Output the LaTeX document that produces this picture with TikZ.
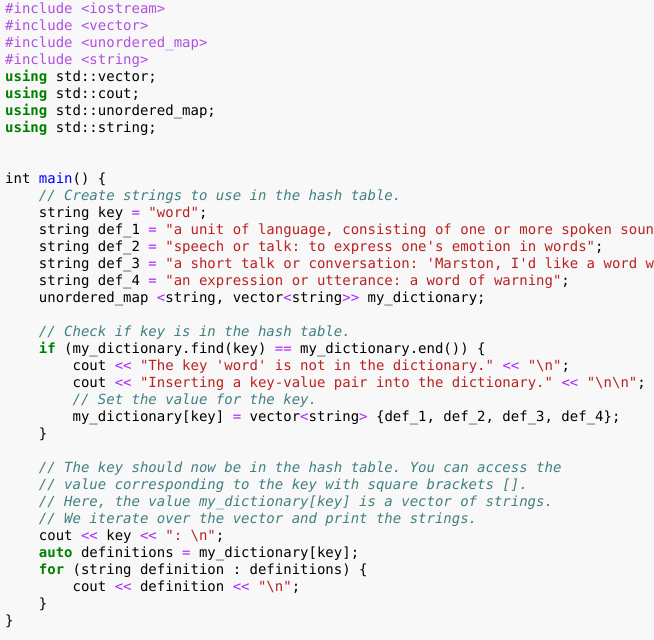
\documentclass[tikz,border=0pt]{standalone}
\usepackage{fontspec}
\newfontfamily\code{DejaVu Sans Mono}
\definecolor{bg}{HTML}{F8F8F8}
\definecolor{ppc}{HTML}{B050E0}
\definecolor{opc}{HTML}{AA22FF}
\definecolor{kwc}{HTML}{008000}
\definecolor{stc}{HTML}{BA2121}
\definecolor{cmc}{HTML}{408080}
\definecolor{fnc}{HTML}{0000FF}
\newcommand{\pp}[1]{\textcolor{ppc}{#1}}
\newcommand{\op}[1]{\textcolor{opc}{#1}}
\newcommand{\kw}[1]{\textcolor{kwc}{\bfseries #1}}
\newcommand{\stq}[1]{\textcolor{stc}{#1}}
\newcommand{\cm}[1]{\textcolor{cmc}{\itshape #1}}
\newcommand{\fn}[1]{\textcolor{fnc}{#1}}
\newcommand{\bs}{\textbackslash}
\newcommand{\codeline}[3]{\node[cl] (l#1) at ({5+8.43*#2},{-13.5-17*(#1-1)}) {#3};}
\frenchspacing
\begin{document}
\begin{tikzpicture}[x=1pt,y=1pt,
  cl/.style={anchor=base west,inner sep=0pt,font=\code\fontsize{14}{17}\selectfont\frenchspacing}]
\fill[bg] (0,0) rectangle (654,-640);
\clip (0,0) rectangle (654,-640);
\codeline{1}{0}{\pp{\#include <iostream>}}
\codeline{2}{0}{\pp{\#include <vector>}}
\codeline{3}{0}{\pp{\#include <unordered\_map>}}
\codeline{4}{0}{\pp{\#include <string>}}
\codeline{5}{0}{\kw{using} std::vector;}
\codeline{6}{0}{\kw{using} std::cout;}
\codeline{7}{0}{\kw{using} std::unordered\_map;}
\codeline{8}{0}{\kw{using} std::string;}
\codeline{11}{0}{int \fn{main}() \{}
\codeline{12}{4}{\cm{// Create strings to use in the hash table.}}
\codeline{13}{4}{string key \op{=} \stq{"word"};}
\codeline{14}{4}{string def\_1 \op{=} \stq{"a unit of language, consisting of one or more spoken sounds"};}
\codeline{15}{4}{string def\_2 \op{=} \stq{"speech or talk: to express one's emotion in words"};}
\codeline{16}{4}{string def\_3 \op{=} \stq{"a short talk or conversation: 'Marston, I'd like a word with you'"};}
\codeline{17}{4}{string def\_4 \op{=} \stq{"an expression or utterance: a word of warning"};}
\codeline{18}{4}{unordered\_map \op{<}string, vector\op{<}string\op{>>} my\_dictionary;}
\codeline{20}{4}{\cm{// Check if key is in the hash table.}}
\codeline{21}{4}{\kw{if} (my\_dictionary.find(key) \op{==} my\_dictionary.end()) \{}
\codeline{22}{8}{cout \op{<<} \stq{"The key 'word' is not in the dictionary."} \op{<<} \stq{"\bs n"};}
\codeline{23}{8}{cout \op{<<} \stq{"Inserting a key-value pair into the dictionary."} \op{<<} \stq{"\bs n\bs n"};}
\codeline{24}{8}{\cm{// Set the value for the key.}}
\codeline{25}{8}{my\_dictionary[key] \op{=} vector\op{<}string\op{>} \{def\_1, def\_2, def\_3, def\_4\};}
\codeline{26}{4}{\}}
\codeline{28}{4}{\cm{// The key should now be in the hash table. You can access the}}
\codeline{29}{4}{\cm{// value corresponding to the key with square brackets [].}}
\codeline{30}{4}{\cm{// Here, the value my\_dictionary[key] is a vector of strings.}}
\codeline{31}{4}{\cm{// We iterate over the vector and print the strings.}}
\codeline{32}{4}{cout \op{<<} key \op{<<} \stq{": \bs n"};}
\codeline{33}{4}{\kw{auto} definitions \op{=} my\_dictionary[key];}
\codeline{34}{4}{\kw{for} (string definition : definitions) \{}
\codeline{35}{8}{cout \op{<<} definition \op{<<} \stq{"\bs n"};}
\codeline{36}{4}{\}}
\codeline{37}{0}{\}}
\end{tikzpicture}
\end{document}
